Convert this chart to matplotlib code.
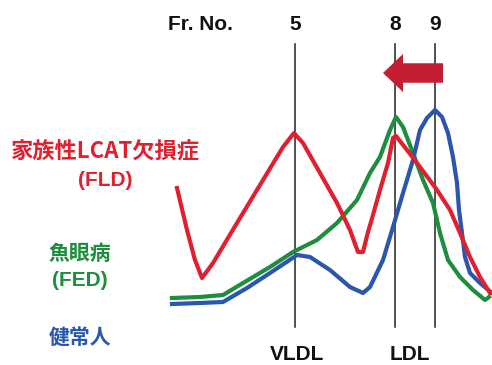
import matplotlib

matplotlib.use("Agg")
import matplotlib.pyplot as plt
from matplotlib.patches import FancyArrow

# Elution profiles (x: elution position, y: position from top, px units).
FLD_X = [177, 187, 195, 202, 213, 237, 263, 283, 294, 303, 320, 337, 350, 358, 363, 368,
         371, 380, 388, 393, 396, 407, 420, 437, 450, 460, 470, 480, 490]
FLD_Y = [188, 230, 260, 278, 263, 223, 180, 147, 133, 143, 173, 203, 230, 252, 252, 232,
         222, 190, 163, 138, 136, 150, 167, 190, 210, 233, 257, 277, 293]

FED_X = [172, 200, 223, 243, 270, 293, 317, 337, 357, 370, 380, 390, 396, 403, 413, 423,
         433, 440, 448, 460, 473, 485, 489]
FED_Y = [298, 297, 295, 283, 267, 252, 240, 223, 200, 173, 157, 130, 117, 127, 153, 180,
         203, 233, 260, 277, 290, 300, 297]

NORMAL_X = [172, 200, 223, 247, 270, 297, 310, 330, 350, 363, 370, 383, 393, 403, 413, 420,
            427, 435, 442, 448, 453, 457, 459, 462, 465, 470, 480, 492]
NORMAL_Y = [304, 303, 302, 288, 273, 255, 257, 270, 287, 293, 287, 260, 227, 193, 160, 130,
            118, 110, 117, 133, 157, 183, 210, 233, 257, 273, 283, 293]

FRACTION_X = [295, 395, 435]
FRACTION_LABELS = ["5", "8", "9"]
CLASS_X = [297, 410]
CLASS_LABELS = ["VLDL", "LDL"]

RED, GREEN, BLUE = "#e0202e", "#1d8d3e", "#2a57ad"
LATIN = ["Liberation Sans", "DejaVu Sans"]
CJK = ["Noto Sans CJK JP", "DejaVu Sans"]

fig = plt.figure(figsize=(4.92, 3.65), dpi=100)
ax = fig.add_axes([0, 0, 1, 1])
ax.set_xlim(0, 492)
ax.set_ylim(365, 0)
ax.axis("off")

for x in FRACTION_X:
    ax.plot([x, x], [44, 327], color="#222222", lw=1.1, zorder=1)

ax.plot(FLD_X, FLD_Y, color=RED, lw=3, solid_joinstyle="round", zorder=3)
ax.plot(FED_X, FED_Y, color=GREEN, lw=3, solid_joinstyle="round", zorder=2)
ax.plot(NORMAL_X, NORMAL_Y, color=BLUE, lw=3, solid_joinstyle="round", zorder=2)

# shift of the LDL peak, fraction 9 -> 8
ax.add_patch(FancyArrow(443, 73, -60, 0, width=19.5, head_width=38, head_length=20,
                        length_includes_head=True, color="#c41e35", lw=0, zorder=4))

ax.text(200, 25, "Fr. No.", ha="center", va="center", fontsize=15, fontweight="bold",
        family=LATIN, color="#111111")
for x, lab in zip(FRACTION_X, FRACTION_LABELS):
    ax.text(x, 25, lab, ha="center", va="center", fontsize=15, fontweight="bold",
            family=LATIN, color="#111111")
for x, lab in zip(CLASS_X, CLASS_LABELS):
    ax.text(x, 355, lab, ha="center", va="center", fontsize=15, fontweight="bold",
            family=LATIN, color="#111111")

ax.text(105, 152, "家族性LCAT欠損症", ha="center", va="center", fontsize=16,
        fontweight="bold", family=CJK, color=RED)
ax.text(105, 180, "(FLD)", ha="center", va="center", fontsize=15, fontweight="bold",
        family=LATIN, color=RED)
ax.text(80, 253, "魚眼病", ha="center", va="center", fontsize=15, fontweight="bold",
        family=CJK, color=GREEN)
ax.text(80, 280, "(FED)", ha="center", va="center", fontsize=15, fontweight="bold",
        family=LATIN, color=GREEN)
ax.text(80, 337, "健常人", ha="center", va="center", fontsize=15, fontweight="bold",
        family=CJK, color=BLUE)

fig.savefig("out.png", dpi=100)
